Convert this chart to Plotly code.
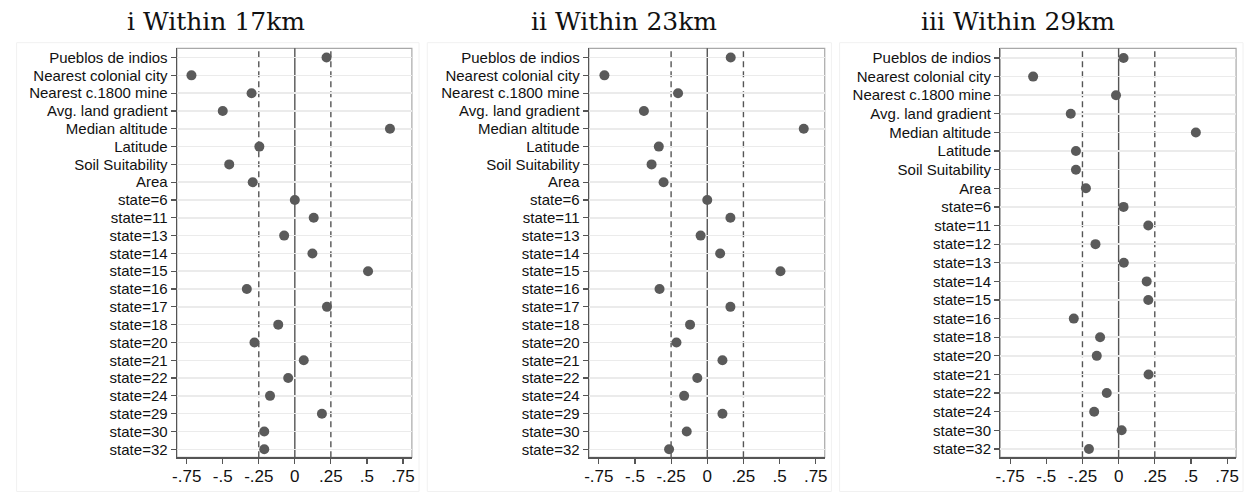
import plotly.graph_objects as go

W, H = 1251, 493

titles = ["i Within 17km", "ii Within 23km", "iii Within 29km"]

cats_17 = ["Pueblos de indios", "Nearest colonial city", "Nearest c.1800 mine", "Avg. land gradient",
           "Median altitude", "Latitude", "Soil Suitability", "Area", "state=6", "state=11", "state=13",
           "state=14", "state=15", "state=16", "state=17", "state=18", "state=20", "state=21", "state=22",
           "state=24", "state=29", "state=30", "state=32"]
vals_17 = [0.22, -0.717, -0.30, -0.50, 0.66, -0.246, -0.455, -0.292, 0.0, 0.131, -0.074,
           0.122, 0.508, -0.333, 0.223, -0.115, -0.28, 0.062, -0.046, -0.172, 0.188, -0.212, -0.212]

cats_23 = ["Pueblos de indios", "Nearest colonial city", "Nearest c.1800 mine", "Avg. land gradient",
           "Median altitude", "Latitude", "Soil Suitability", "Area", "state=6", "state=11", "state=13",
           "state=14", "state=15", "state=16", "state=17", "state=18", "state=20", "state=21", "state=22",
           "state=24", "state=29", "state=30", "state=32"]
vals_23 = [0.162, -0.711, -0.202, -0.438, 0.667, -0.335, -0.385, -0.302, 0.0, 0.16, -0.046,
           0.089, 0.506, -0.33, 0.16, -0.119, -0.213, 0.105, -0.069, -0.16, 0.105, -0.142, -0.264]

cats_29 = ["Pueblos de indios", "Nearest colonial city", "Nearest c.1800 mine", "Avg. land gradient",
           "Median altitude", "Latitude", "Soil Suitability", "Area", "state=6", "state=11", "state=12",
           "state=13", "state=14", "state=15", "state=16", "state=18", "state=20", "state=21", "state=22",
           "state=24", "state=30", "state=32"]
vals_29 = [0.034, -0.591, -0.018, -0.331, 0.534, -0.295, -0.295, -0.226, 0.034, 0.205, -0.16,
           0.036, 0.194, 0.205, -0.31, -0.128, -0.151, 0.207, -0.082, -0.169, 0.021, -0.205]

x_tickvals = [-0.75, -0.5, -0.25, 0, 0.25, 0.5, 0.75]
x_ticktext = ["-.75", "-.5", "-.25", "0", ".25", ".5", ".75"]
ref_lines = [-0.25, 0.0, 0.25]

panels = [(cats_17, vals_17), (cats_23, vals_23), (cats_29, vals_29)]

# layout geometry (pixels)
plot_x = [(173, 409.5), (587.7, 825), (1001.7, 1239)]
plot_y = (48.3, 457.3)
frame_x = [(11.7, 416.7), (425, 831.7), (840, 1246)]
frame_y = (42.7, 491.5)
title_cx = [212, 623, 1020]

DOT = "#5a5a5a"
AX = "#555555"

fig = go.Figure()
layout = dict(
    width=W, height=H, margin=dict(l=0, r=0, t=0, b=0),
    paper_bgcolor="white", plot_bgcolor="white", showlegend=False, hovermode=False,
    font=dict(family="Liberation Sans, Arial, sans-serif", color="#111111"),
)
shapes = []
annotations = []

for i, (cats, vals) in enumerate(panels):
    n = i + 1
    xa = "x" if n == 1 else f"x{n}"
    ya = "y" if n == 1 else f"y{n}"
    fig.add_trace(go.Scatter(
        x=vals, y=cats, mode="markers", xaxis=xa, yaxis=ya,
        marker=dict(size=10, color=DOT, line=dict(width=0)),
        cliponaxis=False,
    ))
    x0, x1 = plot_x[i]
    layout[f"xaxis{'' if n == 1 else n}"] = dict(
        domain=[x0 / W, x1 / W], anchor=ya, range=[-0.818, 0.812],
        tickmode="array", tickvals=x_tickvals, ticktext=x_ticktext, ticks="outside", ticklen=5,
        tickcolor=AX, tickwidth=1.2, showgrid=False, zeroline=False,
        showline=True, linecolor=AX, linewidth=1.3,
        tickfont=dict(size=17, color="#111111"), ticklabelstandoff=-2,
    )
    m = len(cats)
    layout[f"yaxis{'' if n == 1 else n}"] = dict(
        domain=[1 - plot_y[1] / H, 1 - plot_y[0] / H], anchor=xa,
        type="category", categoryorder="array", categoryarray=cats,
        tickmode="array", tickvals=cats, ticktext=cats,
        range=[m - 1 + 0.45, -0.52],
        ticks="outside", ticklen=5, tickcolor=AX, tickwidth=1.2,
        showgrid=True, gridcolor="#ebebeb", gridwidth=1.5, zeroline=False,
        showline=True, linecolor=AX, linewidth=1.3,
        tickfont=dict(size=15, color="#111111"),
    )
    # top/right border of plot region
    shapes.append(dict(type="rect", xref=f"{xa} domain", yref=f"{ya} domain",
                       x0=0, x1=1, y0=0, y1=1, line=dict(color="#a8a8a8", width=1.2),
                       layer="below"))
    # reference lines
    for v in ref_lines:
        shapes.append(dict(type="line", xref=xa, yref=f"{ya} domain", x0=v, x1=v, y0=0, y1=1,
                           line=dict(color=AX, width=1.4, dash="solid" if v == 0 else "6px,4px"),
                           layer="below"))
    # subgraph frame
    fx0, fx1 = frame_x[i]
    shapes.append(dict(type="rect", xref="paper", yref="paper",
                       x0=fx0 / W, x1=fx1 / W, y0=1 - frame_y[1] / H, y1=1 - frame_y[0] / H,
                       line=dict(color="#f1f1f1", width=1), layer="below"))
    annotations.append(dict(text=titles[i], xref="paper", yref="paper",
                            x=title_cx[i] / W, y=1 - 21 / H, xanchor="center", yanchor="middle",
                            showarrow=False,
                            font=dict(family="DejaVu Serif, serif", size=25, color="#111111")))

layout["shapes"] = shapes
layout["annotations"] = annotations
fig.update_layout(**layout)
fig.write_html("out.html", config={"displayModeBar": False, "staticPlot": True},
               post_script="document.body.style.margin='0';document.body.style.padding='0';"
                           "document.body.style.overflow='hidden';")
